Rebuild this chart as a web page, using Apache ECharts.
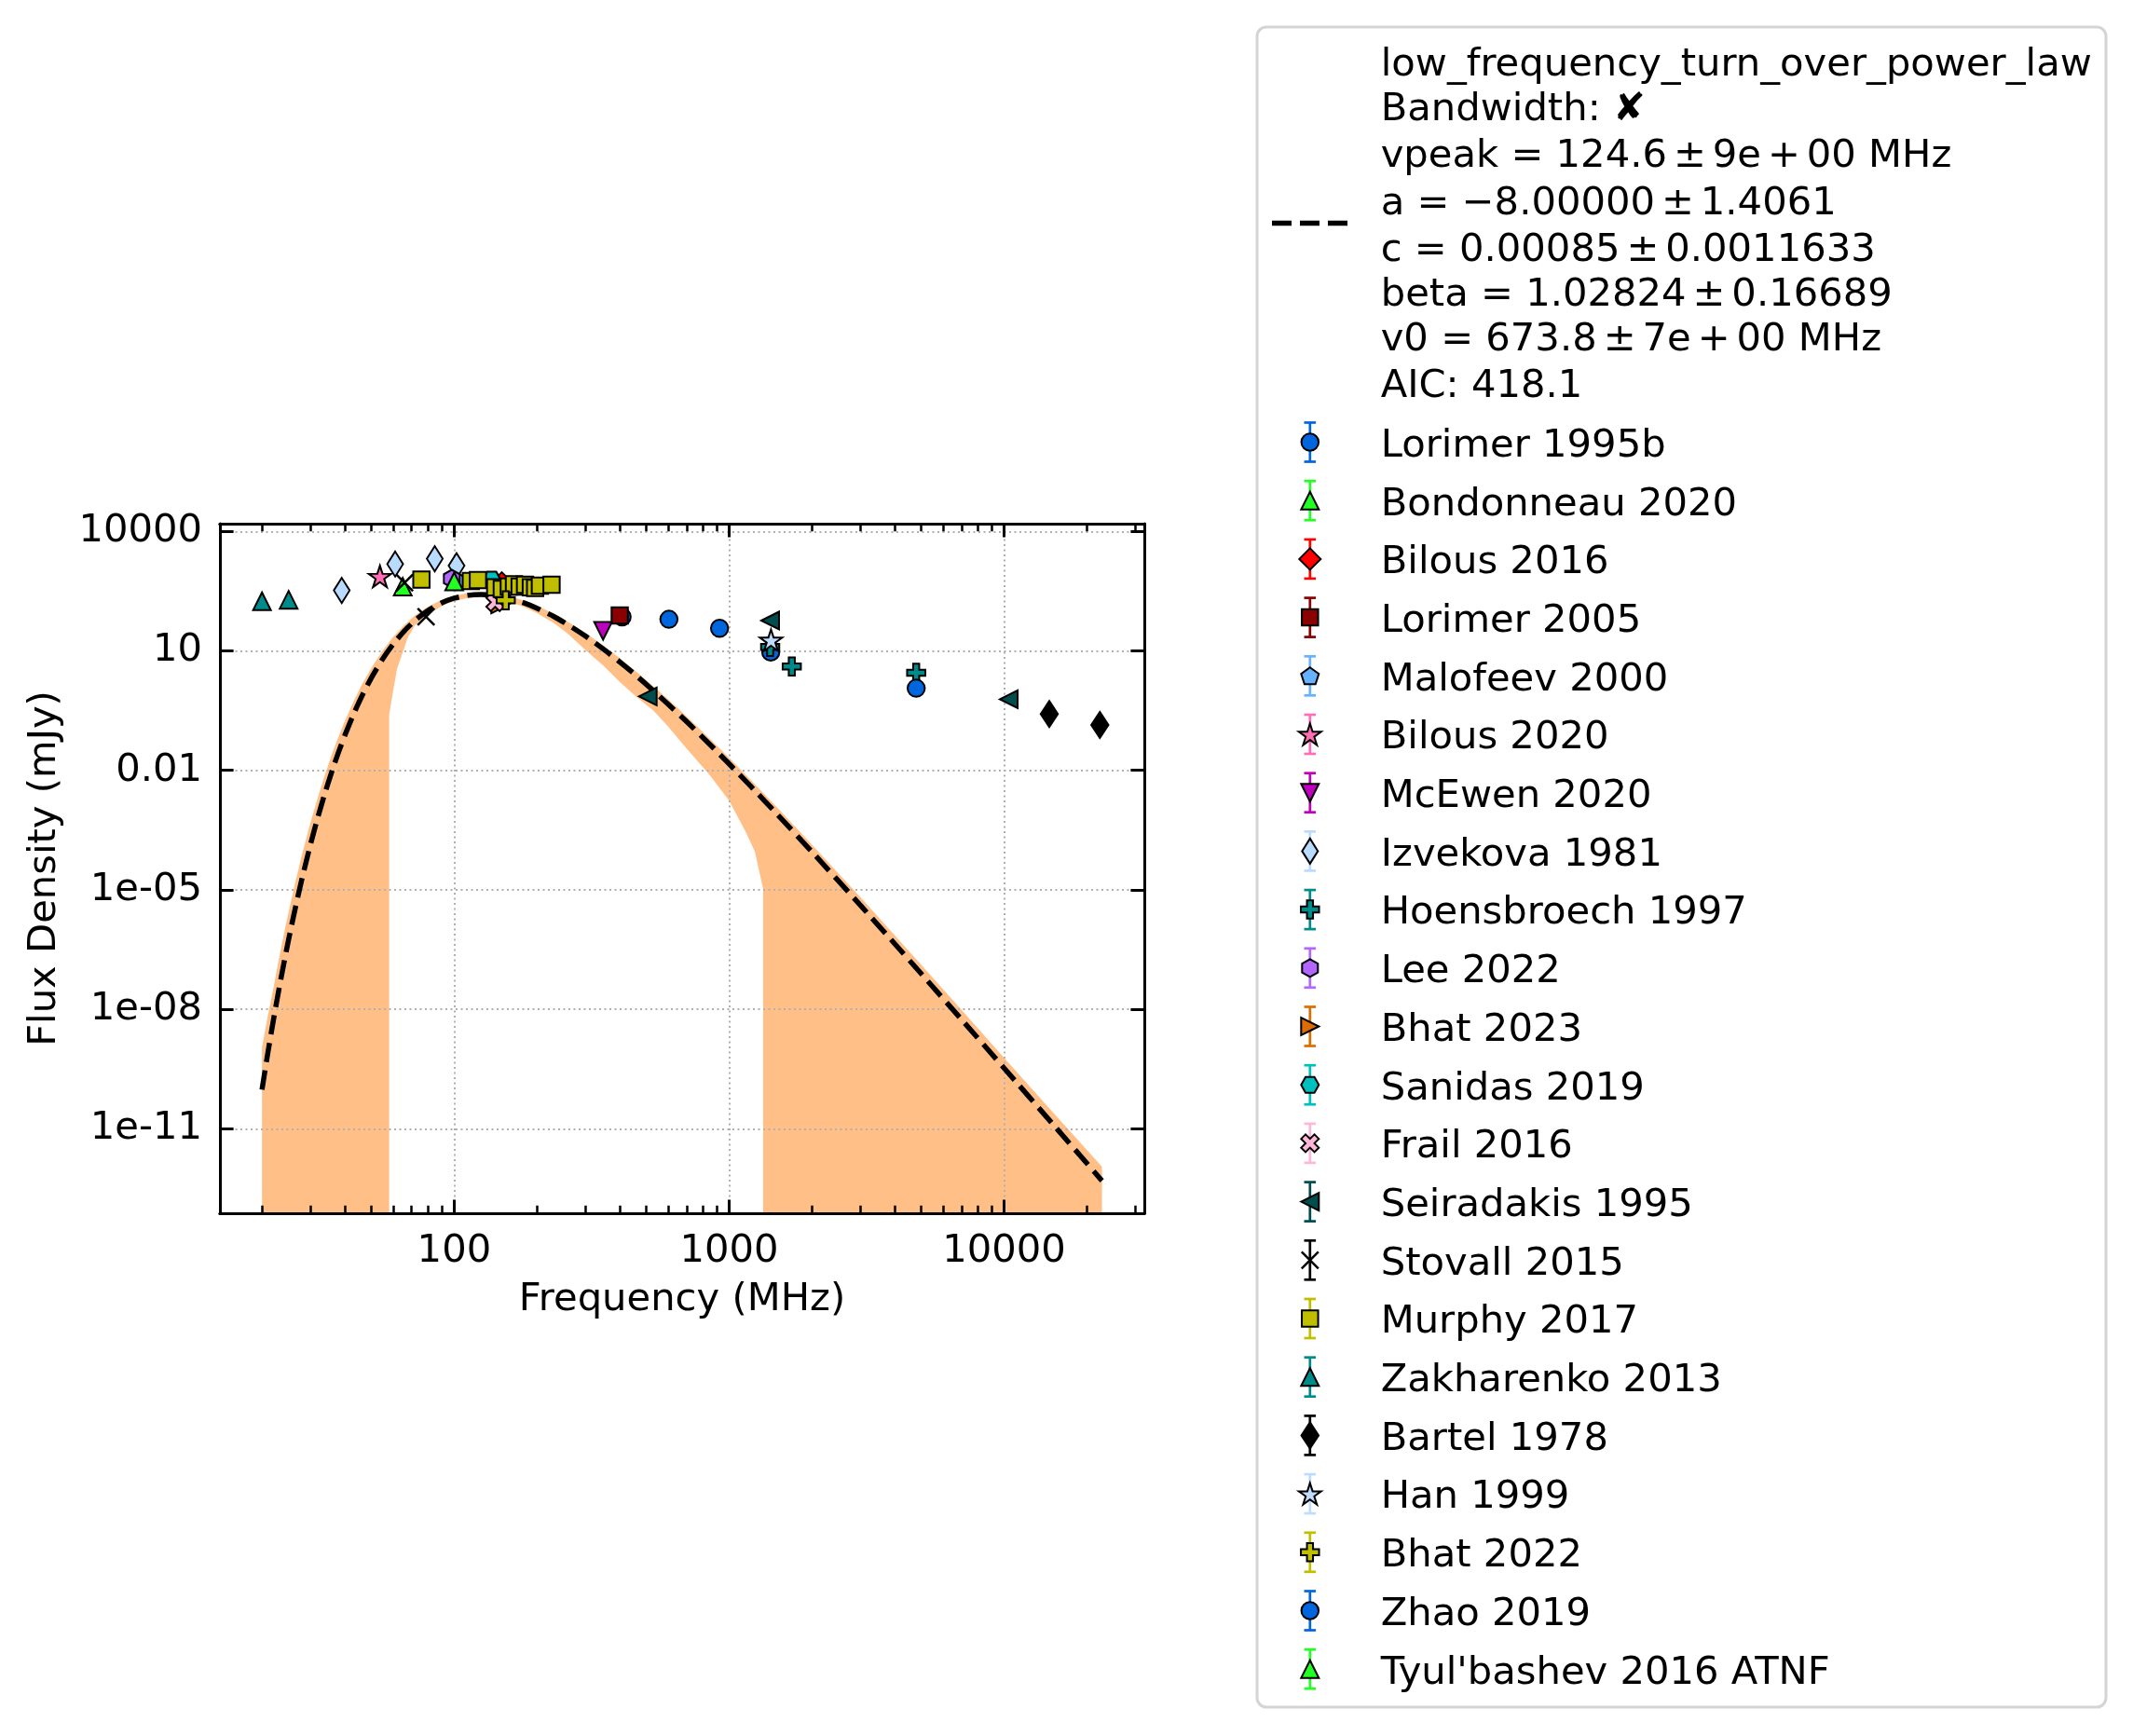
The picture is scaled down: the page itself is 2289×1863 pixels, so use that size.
<!DOCTYPE html>
<html>
<head>
<meta charset="utf-8">
<title>low_frequency_turn_over_power_law fit</title>
<script src="https://cdn.jsdelivr.net/npm/echarts@6/dist/echarts.min.js"></script>
<style>
  html, body { margin: 0; padding: 0; background: #fff; }
  #chart { width: 2289px; height: 1863px; }
</style>
</head>
<body>
<div id="chart"></div>
<script>
// ---- values: frequency (MHz), flux density (mJy) ----
const lorimer1995b    = [[408, 71], [604, 62], [923, 36.8], [1417, 9.4]];
const bondonneau2020  = [[65, 409]];
const bilous2016      = [[149, 508]];
const lorimer2005     = [[400, 77]];
const malofeev2000    = [[102, 600]];
const bilous2020      = [[53.7, 740]];
const mcewen2020      = [[348, 32]];
const izvekova1981    = [[39, 330], [61, 1517], [85, 2060], [102, 1380]];
const hoensbroech1997 = [[1410, 12.5], [1690, 4.04], [4790, 2.82]];
const lee2022         = [[98, 650]];
const bhat2023        = [[147, 147]];
const sanidas2019     = [[137, 617]];
const frail2016       = [[141, 166]];
const seiradakis1995  = [[506, 0.72], [1410, 57.6], [10400, 0.61]];
const stovall2015     = [[66, 516], [79, 71.5]];
const murphy2017      = [[76, 617], [115, 566], [122, 597], [141, 394], [149, 360], [158, 409], [165, 471],
                         [173, 409], [181, 456], [190, 394], [197, 380], [205, 432], [226, 456]];
const zakharenko2013  = [[20, 176], [25, 192]];
const bartel1978      = [[14600, 0.26], [22300, 0.138]];
const han1999         = [[1420, 18.6]];
const bhat2022        = [[154, 185]];
const zhao2019        = [[4790, 1.15]];
const tyulbashev2016  = [[100, 553]];

// fitted curve (dashed line)
const curveFreq = [20, 21, 22, 23, 24, 25, 26.5, 28, 30, 32, 34, 36, 38, 40, 43, 46, 50, 55, 60, 66, 72, 80, 90,
  100, 112, 125, 140, 160, 180, 200, 230, 260, 300, 350, 400, 460, 530, 600, 700, 850, 1000, 1200, 1500,
  2000, 3000, 4000, 5000, 7000, 10000, 15000, 22700];
const curveFlux = [9.55e-11, 7.94e-10, 5.25e-9, 2.92e-8, 1.37e-7, 5.66e-7, 3.75e-6, 1.98e-5, 1.35e-4, 7.0e-4,
  2.89e-3, 9.86e-3, 0.029, 0.0746, 0.251, 0.695, 2.11, 6.34, 14.8, 32.1, 57.7, 101, 160,
  210, 248, 260, 247, 205, 159, 118, 73.3, 44.9, 23.6, 10.9, 5.28, 2.37, 1.0, 0.458, 0.168, 0.045, 0.0145,
  3.94e-3, 7.71e-4, 9.02e-5, 4.10e-6, 4.43e-7, 7.76e-8, 5.55e-9, 3.32e-10, 1.33e-11, 4.94e-13];

// uncertainty band: upper edge on the curve's frequencies
const bandUpper = [1.10e-9, 6.76e-9, 3.39e-8, 1.72e-7, 7.36e-7, 2.77e-6, 1.64e-5, 7.87e-5, 4.80e-4, 2.21e-3,
  8.34e-3, 0.0265, 0.0713, 0.171, 0.525, 1.355, 3.76, 10.3, 22.4, 45.4, 77.8, 127, 192,
  241, 281, 292, 277, 233, 182, 137, 86.1, 53.3, 28.3, 13.4, 6.58, 2.98, 1.29, 0.604, 0.226, 0.0621, 0.0205,
  5.69e-3, 1.14e-3, 1.36e-4, 6.50e-6, 7.18e-7, 1.29e-7, 9.64e-9, 6.04e-10, 2.65e-11, 1.11e-12];
// lower edge (null = not positive, falls off the bottom of the log axis)
const bandLowFreq = [20, 58, 58, 60, 62, 65, 67.5, 72, 80, 90, 100, 112, 125, 140, 160, 180, 200, 230, 260, 300,
  350, 400, 460, 530, 600, 700, 850, 1000, 1150, 1240, 1330, 1330, 22700];
const bandLower = [null, null, 0.245, 1.0, 3.59, 9.12, 20.0, 44.7, 79.4, 132, 178, 214, 226, 211, 170, 126, 89.1,
  50.1, 26.3, 10.5, 4.17, 1.66, 0.708, 0.316, 0.126, 0.0355, 7.59e-3, 1.74e-3, 2.82e-4, 9.12e-5, 1.05e-5,
  null, null];

// axes
const xMin = 14.06, xMax = 32360;
const yMin = 7.53e-14, yMax = 15630;
const xMajorTicks = [100, 1000, 10000];
const xMinorTicks = [20, 30, 40, 50, 60, 70, 80, 90, 200, 300, 400, 500, 600, 700, 800, 900,
  2000, 3000, 4000, 5000, 6000, 7000, 8000, 9000, 20000, 30000];
const yMajorTicks = [1e-11, 1e-8, 1e-5, 0.01, 10, 10000];
const yTickLabels = ['1e-11', '1e-08', '1e-05', '0.01', '10', '10000'];

// legend texts (narrow spaces mimic the mathtext spacing)
const sp = '\u2006';
const fitLines = [
  'low_frequency_turn_over_power_law',
  'Bandwidth: \u2718',
  'vpeak = 124.6' + sp + '\u00b1' + sp + '9e' + sp + '+' + sp + '00 MHz',
  'a = \u22128.00000' + sp + '\u00b1' + sp + '1.4061',
  'c = 0.00085' + sp + '\u00b1' + sp + '0.0011633',
  'beta = 1.02824' + sp + '\u00b1' + sp + '0.16689',
  'v0 = 673.8' + sp + '\u00b1' + sp + '7e' + sp + '+' + sp + '00 MHz',
  'AIC: 418.1'
];
const seriesNames = ['Lorimer 1995b', 'Bondonneau 2020', 'Bilous 2016', 'Lorimer 2005', 'Malofeev 2000',
  'Bilous 2020', 'McEwen 2020', 'Izvekova 1981', 'Hoensbroech 1997', 'Lee 2022', 'Bhat 2023', 'Sanidas 2019',
  'Frail 2016', 'Seiradakis 1995', 'Stovall 2015', 'Murphy 2017', 'Zakharenko 2013', 'Bartel 1978',
  'Han 1999', 'Bhat 2022', 'Zhao 2019', "Tyul'bashev 2016 ATNF"];
const seriesPoints = [lorimer1995b, bondonneau2020, bilous2016, lorimer2005, malofeev2000, bilous2020,
  mcewen2020, izvekova1981, hoensbroech1997, lee2022, bhat2023, sanidas2019, frail2016, seiradakis1995,
  stovall2015, murphy2017, zakharenko2013, bartel1978, han1999, bhat2022, zhao2019, tyulbashev2016];

// ---- styles ----
const markerKinds = ['circle', 'triUp', 'diamond', 'square', 'pentagon', 'star', 'triDown', 'thinDiamond',
  'plus', 'hexPointy', 'triRight', 'hexFlat', 'xFilled', 'triLeft', 'xThin', 'square', 'triUp', 'thinDiamondBig',
  'star', 'plus', 'circle', 'triUp'];
const markerColors = ['#0066dd', '#22ff22', '#ff0000', '#8b0000', '#66b2ff', '#ff6eb4', '#bf00bf', '#b9dbff',
  '#008b8b', '#b366ff', '#dd6d00', '#00bfbf', '#ffb6d9', '#004d4d', '#000000', '#bfbf00', '#008b8b', '#000000',
  '#bfdcff', '#bfbf00', '#0066dd', '#22ff22'];

const starPts = [[0, -1], [0.2245, -0.309], [0.951, -0.309], [0.363, 0.118], [0.588, 0.809], [0, 0.382],
  [-0.588, 0.809], [-0.363, 0.118], [-0.951, -0.309], [-0.2245, -0.309]];
const markerDefs = {
  circle:        { circle: true, size: [18.5, 18.5] },
  triUp:         { pts: [[0, -1], [1, 1], [-1, 1]], size: [19, 19] },
  triDown:       { pts: [[-1, -1], [1, -1], [0, 1]], size: [19, 19] },
  triLeft:       { pts: [[-1, 0], [1, -1], [1, 1]], size: [19, 19] },
  triRight:      { pts: [[1, 0], [-1, 1], [-1, -1]], size: [19, 19] },
  square:        { pts: [[-1, -1], [1, -1], [1, 1], [-1, 1]], size: [17.5, 17.5] },
  diamond:       { pts: [[0, -1], [1, 0], [0, 1], [-1, 0]], size: [23, 23] },
  thinDiamond:   { pts: [[0, -1], [1, 0], [0, 1], [-1, 0]], size: [17, 27] },
  thinDiamondBig:{ pts: [[0, -1], [1, 0], [0, 1], [-1, 0]], size: [18.5, 28] },
  pentagon:      { pts: [[0, -1], [0.951, -0.309], [0.588, 0.809], [-0.588, 0.809], [-0.951, -0.309]], size: [19, 18] },
  star:          { pts: starPts, size: [24, 23] },
  plus:          { pts: [[-1, -3], [1, -3], [1, -1], [3, -1], [3, 1], [1, 1], [1, 3], [-1, 3], [-1, 1], [-3, 1], [-3, -1], [-1, -1]], size: [19.5, 19.5] },
  hexPointy:     { pts: [[0, -1], [0.866, -0.5], [0.866, 0.5], [0, 1], [-0.866, 0.5], [-0.866, -0.5]], size: [17, 19] },
  hexFlat:       { pts: [[-1, 0], [-0.5, -0.866], [0.5, -0.866], [1, 0], [0.5, 0.866], [-0.5, 0.866]], size: [19, 17] },
  xFilled:       { pts: [[-1, -2], [0, -1], [1, -2], [2, -1], [1, 0], [2, 1], [1, 2], [0, 1], [-1, 2], [-2, 1], [-1, 0], [-2, -1]], size: [19, 19] },
  xThin:         { lines: true, size: [18, 18] }
};

const font = { fontFamily: 'DejaVu Sans', fontSize: 41.7, color: '#000' };
const gridLine = { color: '#b0b0b0', width: 2, type: [2, 3.5] };

function symbolFor(def) {
  if (def.circle) return 'circle';
  if (def.lines) return 'path://M-1,-1L1,1M1,-1L-1,1';
  return 'path://M' + def.pts.map(p => p[0] + ',' + p[1]).join('L') + 'Z';
}

// place a unit shape into a w x h box centred at (cx, cy)
function fitPoints(pts, cx, cy, w, h) {
  const xs = pts.map(p => p[0]), ys = pts.map(p => p[1]);
  const x0 = Math.min(...xs), x1 = Math.max(...xs), y0 = Math.min(...ys), y1 = Math.max(...ys);
  return pts.map(p => [cx - w / 2 + (p[0] - x0) / (x1 - x0) * w, cy - h / 2 + (p[1] - y0) / (y1 - y0) * h]);
}

function yLabel(v) {
  for (let i = 0; i < yMajorTicks.length; i++) {
    if (Math.abs(Math.log10(v) - Math.log10(yMajorTicks[i])) < 1e-6) return yTickLabels[i];
  }
  return '';
}

function makeXAxis(position, ticks, len, withLabels) {
  return {
    type: 'log', logBase: 10, min: xMin, max: xMax, position: position, z: 1,
    axisLine: { show: true, onZero: false, lineStyle: { color: '#000', width: 3 } },
    axisTick: { show: true, inside: true, length: len, customValues: ticks,
      lineStyle: { color: '#000', width: len > 10 ? 3 : 2.5 } },
    axisLabel: withLabels
      ? Object.assign({ show: true, margin: 20, customValues: ticks, formatter: v => String(Math.round(v)) }, font)
      : { show: false },
    splitLine: withLabels ? { show: true, lineStyle: gridLine } : { show: false },
    minorTick: { show: false }, minorSplitLine: { show: false }
  };
}

function makeYAxis(position, withLabels) {
  return {
    type: 'log', logBase: 10, min: yMin, max: yMax, position: position, z: 1,
    axisLine: { show: true, onZero: false, lineStyle: { color: '#000', width: 3 } },
    axisTick: { show: true, inside: true, length: 14.6, customValues: yMajorTicks, lineStyle: { color: '#000', width: 3 } },
    axisLabel: withLabels
      ? Object.assign({ show: true, margin: 19, customValues: yMajorTicks, formatter: yLabel }, font)
      : { show: false },
    splitLine: withLabels ? { show: true, lineStyle: gridLine } : { show: false },
    minorTick: { show: false }, minorSplitLine: { show: false }
  };
}

const xAxes = [
  makeXAxis('bottom', xMajorTicks, 14.6, true),
  makeXAxis('top', xMajorTicks, 14.6, false),
  makeXAxis('bottom', xMinorTicks, 8.3, false),
  makeXAxis('top', xMinorTicks, 8.3, false)
];
Object.assign(xAxes[0], { name: 'Frequency (MHz)', nameLocation: 'middle', nameGap: 72, nameTextStyle: font });
const yAxes = [makeYAxis('left', true), makeYAxis('right', false)];
Object.assign(yAxes[0], { name: 'Flux Density (mJy)', nameLocation: 'middle', nameGap: 167, nameTextStyle: font });

// band polygon: upper edge left to right, then lower edge right to left
const bandPolygon = curveFreq.map((f, i) => [f, bandUpper[i]]);
for (let i = bandLowFreq.length - 1; i >= 0; i--) {
  bandPolygon.push([bandLowFreq[i], bandLower[i] == null ? yMin : bandLower[i]]);
}

const scatterSeries = seriesNames.map((name, i) => {
  const def = markerDefs[markerKinds[i]];
  return {
    name: name, type: 'scatter', z: 3, silent: true,
    data: seriesPoints[i],
    symbol: symbolFor(def),
    symbolSize: def.size,
    itemStyle: def.lines
      ? { color: 'rgba(0,0,0,0)', borderColor: markerColors[i], borderWidth: 2.5, opacity: 1 }
      : { color: markerColors[i], borderColor: '#000', borderWidth: 2, opacity: 1 }
  };
});

// ---- legend drawn as graphic elements ----
const textDrop = 4.5;   // text middle sits a little high compared with the glyph centre
const legendEls = [];
legendEls.push({ type: 'rect', shape: { x: 1349, y: 29, width: 911, height: 1803, r: 10 },
  style: { fill: '#fff', stroke: '#d4d4d4', lineWidth: 3 } });
legendEls.push({ type: 'line', shape: { x1: 1365, y1: 239.5, x2: 1448, y2: 239.5 },
  style: { stroke: '#000', lineWidth: 5.5, lineDash: [21, 9] } });
const fitLineY = [65.7, 113.9, 163.5, 214.6, 264.2, 312.4, 360.6, 410.2];
fitLines.forEach((t, i) => {
  legendEls.push({ type: 'text', x: 1481.7, y: fitLineY[i] + textDrop,
    style: { text: t, fontFamily: 'DejaVu Sans', fontSize: 41.7, fill: '#000', align: 'left', verticalAlign: 'middle' } });
});
const entryTop = 474.5, entryStep = 62.7, markX = 1405.8;
seriesNames.forEach((name, i) => {
  const cy = entryTop + i * entryStep;
  const color = markerColors[i];
  const def = markerDefs[markerKinds[i]];
  const bar = { stroke: color, lineWidth: 2.7 };
  legendEls.push({ type: 'line', shape: { x1: markX, y1: cy - 21, x2: markX, y2: cy + 21 }, style: bar });
  legendEls.push({ type: 'line', shape: { x1: markX - 6.3, y1: cy - 21, x2: markX + 6.3, y2: cy - 21 }, style: bar });
  legendEls.push({ type: 'line', shape: { x1: markX - 6.3, y1: cy + 21, x2: markX + 6.3, y2: cy + 21 }, style: bar });
  const w = def.size[0], h = def.size[1];
  if (def.circle) {
    legendEls.push({ type: 'circle', shape: { cx: markX, cy: cy, r: w / 2 },
      style: { fill: color, stroke: '#000', lineWidth: 2 } });
  } else if (def.lines) {
    const s = { stroke: color, lineWidth: 2.5 };
    legendEls.push({ type: 'line', shape: { x1: markX - w / 2, y1: cy - h / 2, x2: markX + w / 2, y2: cy + h / 2 }, style: s });
    legendEls.push({ type: 'line', shape: { x1: markX + w / 2, y1: cy - h / 2, x2: markX - w / 2, y2: cy + h / 2 }, style: s });
  } else {
    legendEls.push({ type: 'polygon', shape: { points: fitPoints(def.pts, markX, cy, w, h) },
      style: { fill: color, stroke: '#000', lineWidth: 2, lineJoin: 'miter' } });
  }
  legendEls.push({ type: 'text', x: 1481.7, y: cy + textDrop,
    style: { text: name, fontFamily: 'DejaVu Sans', fontSize: 41.7, fill: '#000', align: 'left', verticalAlign: 'middle' } });
});

const chart = echarts.init(document.getElementById('chart'), null, { renderer: 'canvas', width: 2289, height: 1863 });
chart.setOption({
  animation: false,
  backgroundColor: '#fff',
  grid: { left: 236, top: 562, width: 992, height: 740, containLabel: false },
  xAxis: xAxes,
  yAxis: yAxes,
  series: [
    {
      type: 'custom', z: 0, silent: true, clip: true,
      xAxisIndex: 0, yAxisIndex: 0,
      data: bandPolygon,
      renderItem: (params, api) => {
        if (params.dataIndex !== 0) return null;
        return { type: 'polygon', shape: { points: bandPolygon.map(p => api.coord(p)) },
          style: { fill: '#ffbf86' } };
      }
    },
    {
      type: 'line', z: 2, silent: true, xAxisIndex: 0, yAxisIndex: 0,
      data: curveFreq.map((f, i) => [f, curveFlux[i]]),
      showSymbol: false, smooth: 0.2,
      lineStyle: { color: '#000', width: 5.5, type: [21, 9] }
    }
  ].concat(scatterSeries),
  graphic: { elements: legendEls }
});

window.addEventListener('resize', () => chart.resize());
</script>
</body>
</html>
